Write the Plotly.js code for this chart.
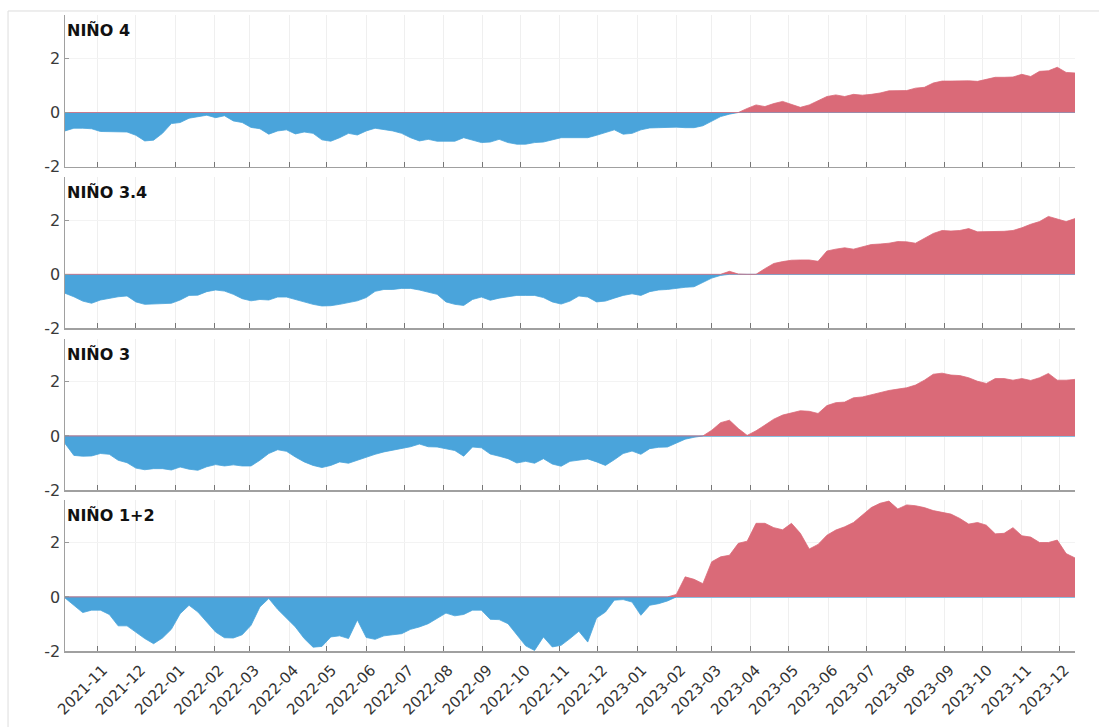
<!DOCTYPE html>
<html>
<head>
<meta charset="utf-8">
<script src="https://cdn.plot.ly/plotly-3.0.1.min.js"></script>
<style>
  html, body { margin: 0; padding: 0; background: #ffffff; }
  #chart { width: 1099px; height: 727px; }
</style>
</head>
<body>
<div id="chart"></div>
<script>
// Weekly sea-surface temperature anomalies (°C) for the four Niño regions,
// one value per week starting on the first sample date below.
const firstWeek = '2021-10-06';
const weekCount = 115;

const regionNames = ['NIÑO 4', 'NIÑO 3.4', 'NIÑO 3', 'NIÑO 1+2'];

const nino4 = [
  -0.68, -0.58, -0.58, -0.60, -0.70, -0.70, -0.70, -0.72, -0.84, -1.05,
  -1.02, -0.77, -0.41, -0.37, -0.21, -0.15, -0.10, -0.19, -0.12, -0.31,
  -0.37, -0.55, -0.60, -0.80, -0.68, -0.64, -0.79, -0.72, -0.77, -1.01,
  -1.06, -0.93, -0.77, -0.83, -0.68, -0.58, -0.62, -0.68, -0.77, -0.93,
  -1.05, -0.99, -1.06, -1.06, -1.06, -0.93, -1.01, -1.11, -1.09, -0.99,
  -1.11, -1.17, -1.17, -1.11, -1.09, -1.01, -0.93, -0.93, -0.93, -0.93,
  -0.84, -0.74, -0.64, -0.80, -0.77, -0.64, -0.57, -0.56, -0.54, -0.54,
  -0.56, -0.56, -0.49, -0.31, -0.15, -0.06, 0.00, 0.15, 0.28, 0.22,
  0.33, 0.41, 0.31, 0.19, 0.28, 0.43, 0.59, 0.65, 0.59, 0.67,
  0.64, 0.67, 0.72, 0.80, 0.81, 0.81, 0.90, 0.93, 1.09, 1.16,
  1.16, 1.17, 1.17, 1.15, 1.23, 1.30, 1.30, 1.31, 1.41, 1.33,
  1.52, 1.54, 1.67, 1.48, 1.46
];

const nino34 = [
  -0.70, -0.83, -0.99, -1.07, -0.95, -0.89, -0.83, -0.80, -1.02, -1.11,
  -1.09, -1.07, -1.07, -0.95, -0.78, -0.77, -0.64, -0.58, -0.62, -0.74,
  -0.90, -0.98, -0.93, -0.95, -0.84, -0.84, -0.93, -1.02, -1.11, -1.17,
  -1.16, -1.11, -1.05, -0.98, -0.86, -0.63, -0.56, -0.56, -0.52, -0.52,
  -0.58, -0.65, -0.74, -1.02, -1.11, -1.15, -0.93, -0.84, -0.96, -0.88,
  -0.83, -0.78, -0.78, -0.78, -0.86, -1.02, -1.10, -0.99, -0.80, -0.84,
  -1.02, -0.99, -0.88, -0.78, -0.72, -0.78, -0.64, -0.58, -0.56, -0.51,
  -0.48, -0.46, -0.31, -0.14, -0.04, 0.11, 0.01, 0.00, 0.00, 0.21,
  0.40, 0.47, 0.52, 0.53, 0.53, 0.48, 0.86, 0.93, 0.98, 0.93,
  1.02, 1.10, 1.12, 1.15, 1.21, 1.20, 1.15, 1.32, 1.51, 1.62,
  1.60, 1.62, 1.69, 1.57, 1.57, 1.57, 1.59, 1.62, 1.72, 1.85,
  1.95, 2.14, 2.04, 1.95, 2.06
];

const nino3 = [
  -0.28, -0.72, -0.75, -0.74, -0.65, -0.68, -0.90, -0.99, -1.19, -1.25,
  -1.21, -1.21, -1.26, -1.15, -1.23, -1.27, -1.14, -1.06, -1.11, -1.07,
  -1.11, -1.11, -0.90, -0.65, -0.51, -0.57, -0.78, -0.96, -1.09, -1.17,
  -1.09, -0.96, -1.01, -0.90, -0.78, -0.68, -0.59, -0.53, -0.47, -0.40,
  -0.30, -0.40, -0.41, -0.47, -0.54, -0.75, -0.41, -0.44, -0.67, -0.75,
  -0.84, -1.00, -0.94, -1.01, -0.84, -1.04, -1.12, -0.94, -0.90, -0.85,
  -0.96, -1.09, -0.88, -0.65, -0.56, -0.68, -0.47, -0.42, -0.41, -0.26,
  -0.12, -0.05, 0.00, 0.21, 0.49, 0.58, 0.27, 0.02, 0.19, 0.40,
  0.62, 0.77, 0.86, 0.93, 0.91, 0.83, 1.12, 1.23, 1.25, 1.41,
  1.44, 1.52, 1.60, 1.68, 1.73, 1.78, 1.88, 2.06, 2.28, 2.32,
  2.25, 2.23, 2.15, 2.02, 1.94, 2.12, 2.12, 2.06, 2.12, 2.05,
  2.15, 2.31, 2.06, 2.06, 2.09
];

const nino12 = [
  -0.04, -0.31, -0.58, -0.49, -0.49, -0.65, -1.07, -1.07, -1.30, -1.54,
  -1.73, -1.52, -1.20, -0.62, -0.31, -0.56, -0.93, -1.30, -1.51, -1.52,
  -1.40, -1.05, -0.37, -0.06, -0.46, -0.78, -1.11, -1.54, -1.86, -1.83,
  -1.48, -1.44, -1.54, -0.85, -1.50, -1.57, -1.44, -1.40, -1.36, -1.20,
  -1.11, -0.99, -0.78, -0.60, -0.70, -0.65, -0.49, -0.49, -0.83, -0.84,
  -0.99, -1.42, -1.81, -1.98, -1.48, -1.85, -1.79, -1.54, -1.27, -1.67,
  -0.78, -0.56, -0.12, -0.10, -0.19, -0.68, -0.31, -0.25, -0.15, 0.09,
  0.74, 0.65, 0.49, 1.30, 1.48, 1.54, 1.98, 2.06, 2.72, 2.72,
  2.56, 2.48, 2.72, 2.35, 1.77, 1.94, 2.28, 2.47, 2.59, 2.75,
  3.02, 3.30, 3.46, 3.54, 3.25, 3.40, 3.37, 3.30, 3.19, 3.12,
  3.06, 2.90, 2.69, 2.75, 2.65, 2.33, 2.35, 2.56, 2.26, 2.21,
  2.01, 2.01, 2.10, 1.60, 1.44
];

const regionSeries = [nino4, nino34, nino3, nino12];

const coolColor = '#4aa4db';
const warmColor = '#da6a78';

// Weekly sample dates
function weeklyDates(start, n) {
  const out = [];
  const t0 = new Date(start + 'T00:00:00Z').getTime();
  for (let i = 0; i < n; i++) {
    out.push(new Date(t0 + i * 7 * 86400000).toISOString().slice(0, 10));
  }
  return out;
}
const dates = weeklyDates(firstWeek, weekCount);

// Panel layout: four stacked panels sharing one time axis
const panelTops = [1.0, 0.7454, 0.4913, 0.2382];
const panelBottoms = [0.7615, 0.5072, 0.2531, 0.0];

const traces = [];
const layout = {
  width: 1099,
  height: 727,
  margin: { l: 65, r: 24, t: 15, b: 76 },
  paper_bgcolor: '#ffffff',
  plot_bgcolor: '#ffffff',
  showlegend: false,
  font: { family: 'DejaVu Sans, Verdana, sans-serif', color: '#333333' },
  annotations: [],
  shapes: [
    // light frame around the figure
    { type: 'line', xref: 'paper', yref: 'paper', x0: -0.0564, x1: 1.05, y0: 1.0063, y1: 1.0063,
      line: { color: '#dddddd', width: 1 } },
    { type: 'line', xref: 'paper', yref: 'paper', x0: -0.0564, x1: -0.0564, y0: -0.2, y1: 1.0063,
      line: { color: '#dddddd', width: 1 } }
  ]
};

regionSeries.forEach((vals, i) => {
  const n = i + 1;
  const xa = 'x' + (n === 1 ? '' : n);
  const ya = 'y' + (n === 1 ? '' : n);
  const neg = vals.map(v => Math.min(v, 0));
  const pos = vals.map(v => Math.max(v, 0));

  traces.push({
    x: dates, y: neg, xaxis: xa, yaxis: ya,
    type: 'scatter', mode: 'lines', fill: 'tozeroy',
    fillcolor: coolColor, line: { color: coolColor, width: 0.8 },
    hoverinfo: 'skip'
  });
  traces.push({
    x: dates, y: pos, xaxis: xa, yaxis: ya,
    type: 'scatter', mode: 'lines', fill: 'tozeroy',
    fillcolor: warmColor, line: { color: warmColor, width: 0.8 },
    hoverinfo: 'skip'
  });

  const xKey = 'xaxis' + (n === 1 ? '' : n);
  const yKey = 'yaxis' + (n === 1 ? '' : n);

  layout[xKey] = {
    type: 'date',
    anchor: ya,
    matches: n === 1 ? undefined : 'x',
    range: ['2021-10-06', '2023-12-13'],
    tick0: '2021-11-01',
    dtick: 'M1',
    tickformat: '%Y-%m',
    tickangle: -45,
    showticklabels: n === 4,
    tickfont: { family: 'DejaVu Sans, Verdana, sans-serif', size: 15, color: '#333333' },
    ticklabelstandoff: 3,
    ticklabelshift: 5,
    ticks: 'inside',
    ticklen: 5,
    tickcolor: '#777777',
    showline: true,
    linecolor: '#a0a0a0',
    linewidth: 1.5,
    showgrid: true,
    gridcolor: '#efefef',
    zeroline: false
  };
  layout[yKey] = {
    anchor: xa,
    domain: [panelBottoms[i], panelTops[i]],
    range: [-2, 3.6],
    tickvals: [-2, 0, 2],
    ticktext: ['-2', '0', '2'],
    tickfont: { family: 'DejaVu Sans, Verdana, sans-serif', size: 16, color: '#3a3a3a' },
    ticks: 'inside',
    ticklen: 4,
    tickcolor: '#999999',
    showline: true,
    linecolor: '#a0a0a0',
    linewidth: 1.5,
    showgrid: true,
    gridcolor: '#f3f3f3',
    zeroline: true,
    zerolinecolor: '#a9cde6',
    zerolinewidth: 1.5
  };

  layout.annotations.push({
    text: '<b>' + regionNames[i] + '</b>',
    xref: 'paper', yref: 'paper',
    x: 0, y: panelTops[i],
    xanchor: 'left', yanchor: 'top',
    yshift: -4,
    showarrow: false,
    font: { family: 'DejaVu Sans, Verdana, sans-serif', size: 16, color: '#111111' }
  });
});

Plotly.newPlot('chart', traces, layout, { displayModeBar: false, staticPlot: true });
</script>
</body>
</html>
